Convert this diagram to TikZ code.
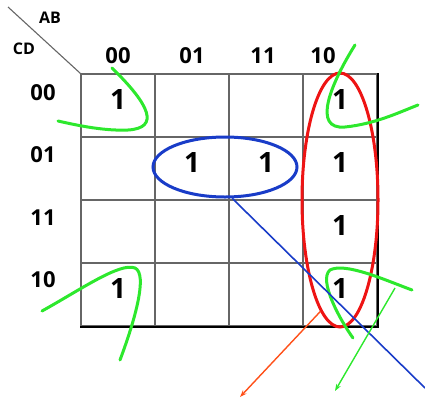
\documentclass[tikz,border=0pt]{standalone}
\usepackage{fontspec}
\setmainfont{Open Sans}
\usetikzlibrary{arrows.meta,positioning,calc,shapes.geometric}

\definecolor{loopred}{RGB}{238,20,20}
\definecolor{loopblue}{RGB}{25,60,200}
\definecolor{loopgreen}{RGB}{45,232,45}
\definecolor{arrorange}{RGB}{255,80,25}

\begin{document}
\begin{tikzpicture}[
    x=1pt, y=-1pt,
    cell/.style={
        rectangle, draw=black!60, line width=1.1pt,
        minimum width=74pt, minimum height=63pt, inner sep=0pt
    },
    one/.style={font=\fontsize{28}{28}\selectfont\bfseries, inner sep=0pt},
    hdr/.style={font=\fontsize{22}{22}\selectfont\bfseries, inner sep=0pt},
    varlbl/.style={font=\fontsize{16}{16}\selectfont\bfseries, inner sep=0pt},
    % Groupings: thick ellipses
    loopbox/.style={ellipse, line width=3pt, inner sep=0pt},
    % Hand-drawn marks: thick green strokes
    greenstroke/.style={line width=3pt, loopgreen, line cap=round},
    arrline/.style={->, >={Stealth[length=7pt,width=5pt]}, line width=1.4pt}
]
\useasboundingbox (0,0) rectangle (425,402);

% === Grid ===
\foreach \r in {0,...,3}
  \foreach \c in {0,...,3}
    \node[cell] (c\r\c) at (118+74*\c, 105.5+63*\r) {};
\draw[line width=2pt] (c30.south west) -- (c33.south east) -- (c03.north east);

% === Headers ===
\coordinate (corner) at (8,7);
\draw[black!60, line width=1.1pt] (corner) -- (c00.north west);
\node[varlbl] (ab) at (50,18) {AB};
\node[varlbl] (cd) at (24,49) {CD};
\foreach \x/\t in {118/00, 192/01, 263/11, 323/10}
    \node[hdr] (ab\t) at (\x,56) {\t};
\foreach \y/\t in {93/00, 155/01, 218/11, 280/10}
    \node[hdr] (cd\t) at (43,\y) {\t};

% === Minterms ===
\foreach \r/\c in {0/0, 0/3, 1/1, 1/2, 1/3, 2/3, 3/0, 3/3}
    \node[one] (one\r\c) at ([yshift=6pt]c\r\c.center) {1};

% === Groups ===
\node[loopbox, draw=loopred, minimum width=76pt, minimum height=254pt]
    (redloop) at (340,200) {};
\node[loopbox, draw=loopblue, minimum width=144pt, minimum height=60pt]
    (blueloop) at (225,167) {};

% === Corner group (green marks) ===
\draw[greenstroke] (112,68) .. controls (150,105) and (160,128) .. (128,130)
    .. controls (105,131) and (80,126) .. (58,121);
\draw[greenstroke] (355,45) .. controls (330,85) and (312,130) .. (345,127)
    .. controls (375,124) and (400,112) .. (418,105);
\draw[greenstroke] (42,311) .. controls (80,290) and (120,262) .. (135,268)
    .. controls (148,274) and (135,320) .. (120,360);
\draw[greenstroke] (412,290) .. controls (385,280) and (345,262) .. (330,270)
    .. controls (318,280) and (340,320) .. (353,338);

% === Pointers ===
\coordinate (blueend) at (425,388);
\draw[loopblue, line width=1.6pt] (blueloop.-77) -- (blueend);

\coordinate (orangeend) at (240,397);
\draw[arrline, arrorange] (redloop.-100) -- (orangeend);

\coordinate (greenstart) at (395,288);
\coordinate (greenend) at (335,391);
\draw[arrline, loopgreen] (greenstart) -- (greenend);

\end{tikzpicture}
\end{document}
